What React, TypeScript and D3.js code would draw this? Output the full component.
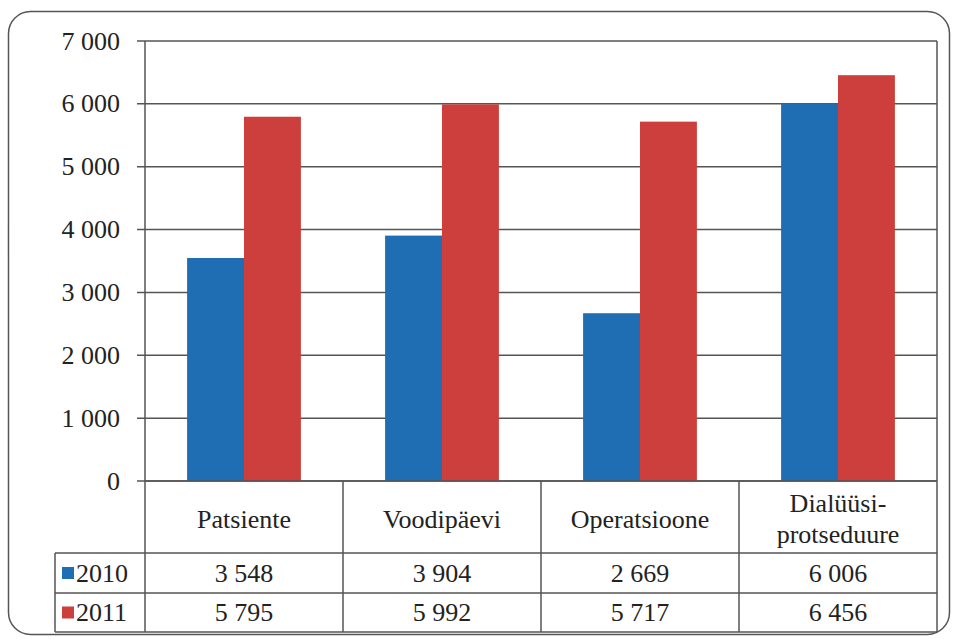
import React from "react";
import * as d3 from "d3";

const categories: string[][] = [["Patsiente"], ["Voodipäevi"], ["Operatsioone"], ["Dialüüsi-", "protseduure"]];
const seriesNames = ["2010", "2011"];
const values2010 = [3548, 3904, 2669, 6006];
const values2011 = [5795, 5992, 5717, 6456];
const valueLabels2010 = ["3 548", "3 904", "2 669", "6 006"];
const valueLabels2011 = ["5 795", "5 992", "5 717", "6 456"];
const yTicks = [0, 1000, 2000, 3000, 4000, 5000, 6000, 7000];
const colors = ["#1f6db2", "#cc3f3c"];

const W = 955, H = 639;
const plotL = 145, plotR = 937, plotT = 41, plotB = 481;
const tableL = 55, row1B = 553, row2B = 593, row3B = 632;
const font = "Liberation Serif";
const fs = 26;
const lineColor = "#555";

export default function App() {
  const x = d3.scaleBand<number>().domain(d3.range(categories.length)).range([plotL, plotR]).paddingInner(0).paddingOuter(0);
  const x1 = d3.scaleBand<number>().domain([0, 1]).range([0, x.bandwidth()]).paddingOuter(0.74).paddingInner(0);
  const y = d3.scaleLinear().domain([0, 7000]).range([plotB, plotT]);
  const fmt = (v: number) => d3.format(",")(v).replace(/,/g, " ");
  const series = [values2010, values2011];
  const labels = [valueLabels2010, valueLabels2011];
  const rowMid = [(row1B + row2B) / 2, (row2B + row3B) / 2];

  return (
    <svg width={W} height={H} fontFamily={font} style={{ position: "absolute", left: 0, top: 0, fontFamily: font }}>
      <style>{`text, tspan { font-family: "Liberation Serif", serif; }`}</style>
      <rect x={8.5} y={11.5} width={941} height={623} rx={22} ry={22} fill="#fff" stroke="#555" strokeWidth={1.5} />
      {yTicks.map((t) => (
        <g key={t}>
          <line x1={plotL - 8} x2={plotR} y1={y(t)} y2={y(t)} stroke={lineColor} strokeWidth={1.5} />
          <text x={120} y={y(t)} dy="0.33em" textAnchor="end" fontFamily={font} fontSize={fs} fill="#222">
            {fmt(t)}
          </text>
        </g>
      ))}
      {categories.map((_, i) =>
        series.map((s, j) => (
          <rect
            key={`${i}-${j}`}
            x={(x(i) as number) + (x1(j) as number)}
            y={y(s[i])}
            width={x1.bandwidth()}
            height={plotB - y(s[i])}
            fill={colors[j]}
          />
        ))
      )}
      <line x1={plotL} x2={plotL} y1={plotT} y2={row3B} stroke={lineColor} strokeWidth={1.5} />
      <line x1={plotR} x2={plotR} y1={plotT} y2={row3B} stroke={lineColor} strokeWidth={1.5} />
      {categories.map((_, i) =>
        i > 0 ? (
          <line key={i} x1={x(i) as number} x2={x(i) as number} y1={plotB} y2={row3B} stroke={lineColor} strokeWidth={1.5} />
        ) : null
      )}
      <line x1={plotL} x2={plotR} y1={plotB} y2={plotB} stroke={lineColor} strokeWidth={1.5} />
      {[row1B, row2B, row3B].map((yy) => (
        <line key={yy} x1={tableL} x2={plotR} y1={yy} y2={yy} stroke={lineColor} strokeWidth={1.5} />
      ))}
      <line x1={tableL} x2={tableL} y1={row1B} y2={row3B} stroke={lineColor} strokeWidth={1.5} />
      {categories.map((c, i) => {
        const cx = (x(i) as number) + x.bandwidth() / 2;
        const mid = (plotB + row1B) / 2 + 2;
        const lh = 31;
        return (
          <text key={i} x={cx} textAnchor="middle" fontFamily={font} fontSize={fs} fill="#222">
            {c.map((line, k) => (
              <tspan key={k} x={cx} y={mid + (k - (c.length - 1) / 2) * lh} dy="0.33em">
                {line}
              </tspan>
            ))}
          </text>
        );
      })}
      {seriesNames.map((n, j) => (
        <g key={n}>
          <rect x={62} y={rowMid[j] - 6} width={12} height={12} fill={colors[j]} />
          <text x={76} y={rowMid[j]} dy="0.33em" fontFamily={font} fontSize={fs} fill="#222">
            {n}
          </text>
          {labels[j].map((v, i) => (
            <text key={i} x={(x(i) as number) + x.bandwidth() / 2} y={rowMid[j]} dy="0.33em" textAnchor="middle" fontFamily={font} fontSize={fs} fill="#222">
              {v}
            </text>
          ))}
        </g>
      ))}
    </svg>
  );
}
